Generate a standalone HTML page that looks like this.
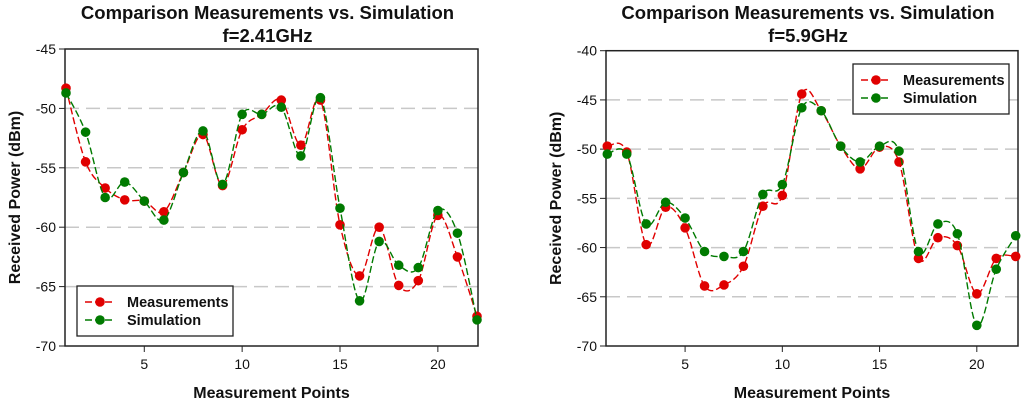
<!DOCTYPE html>
<html><head><meta charset="utf-8"><style>
body{margin:0;background:#fff;width:1024px;height:407px;overflow:hidden;font-family:"Liberation Sans",Arial,sans-serif}
svg text{font-family:"Liberation Sans",Arial,sans-serif}
</style></head><body>
<svg id="c" width="1024" height="407" viewBox="0 0 1024 407"></svg>
<script>
const points = [1,2,3,4,5,6,7,8,9,10,11,12,13,14,15,16,17,18,19,20,21,22];
const xTicks = [5,10,15,20];
const leftYTicks = [-45,-50,-55,-60,-65,-70];
const rightYTicks = [-40,-45,-50,-55,-60,-65,-70];
const leftMeas = [-48.3,-54.5,-56.7,-57.7,-57.8,-58.7,-55.4,-52.2,-56.5,-51.8,-50.5,-49.3,-53.1,-49.3,-59.8,-64.1,-60.0,-64.9,-64.5,-59.0,-62.5,-67.5];
const leftSim = [-48.7,-52.0,-57.5,-56.2,-57.8,-59.4,-55.4,-51.9,-56.4,-50.5,-50.5,-49.9,-54.0,-49.1,-58.4,-66.2,-61.2,-63.2,-63.4,-58.6,-60.5,-67.8];
const rightMeas = [-49.7,-50.3,-59.7,-55.9,-58.0,-63.9,-63.8,-61.9,-55.8,-54.7,-44.4,-46.1,-49.7,-52.0,-49.8,-51.3,-61.1,-59.0,-59.8,-64.7,-61.1,-60.9];
const rightSim = [-50.5,-50.5,-57.6,-55.4,-57.0,-60.4,-60.9,-60.4,-54.6,-53.6,-45.8,-46.1,-49.7,-51.3,-49.7,-50.2,-60.4,-57.6,-58.6,-67.9,-62.2,-58.8];

const NS="http://www.w3.org/2000/svg";
const svg=document.getElementById('c');
function mk(tag,attrs,parent){const e=document.createElementNS(NS,tag);for(const k in attrs)e.setAttribute(k,attrs[k]);(parent||svg).appendChild(e);return e;}
function txt(s,attrs,parent){const e=mk('text',attrs,parent);e.textContent=s;return e;}

function chart(cfg){
  const g=mk('g',{});
  
  
  const {L,R,T,B,ymin,ymax,p1x,p22x}=cfg;
  const xs=v=>p1x+(v-1)*(p22x-p1x)/21;
  const ys=v=>T+(ymax-v)*(B-T)/(ymax-ymin);
  cfg.yTicks.forEach(v=>{
    if(v!==ymax&&v!==ymin){const l=mk('line',{x1:L,x2:R,y1:ys(v),y2:ys(v),stroke:'#c8c8c8','stroke-width':1.5,'stroke-dasharray':'14,7'},g);
    
    }
    const t=mk('line',{x1:L-6,x2:L,y1:ys(v),y2:ys(v),stroke:'#222','stroke-width':1},g);
    
    
    const lb=txt(String(v),{x:L-9,y:ys(v)+5,'text-anchor':'end','font-size':14,fill:'#111'},g);
    
    
  });
  xTicks.forEach(v=>{
    const t=mk('line',{x1:xs(v),x2:xs(v),y1:B,y2:B+6,stroke:'#222','stroke-width':1},g);
    
    
    const lb=txt(String(v),{x:xs(v),y:B+23,'text-anchor':'middle','font-size':14,fill:'#111'},g);
    
    
  });
  const frame=mk('rect',{x:L,y:T,width:R-L,height:B-T,fill:'none',stroke:'#222','stroke-width':1.5},g);
  
  
  function series(vals,color,nm){
    const pts=vals.map((v,i)=>[xs(points[i]),ys(v)]);
    let d='M'+pts[0][0]+','+pts[0][1];
    for(let i=0;i<pts.length-1;i++){
      const p0=pts[Math.max(0,i-1)],p1=pts[i],p2=pts[i+1],p3=pts[Math.min(pts.length-1,i+2)];
      const c1=[p1[0]+(p2[0]-p0[0])/6,p1[1]+(p2[1]-p0[1])/6];
      const c2=[p2[0]-(p3[0]-p1[0])/6,p2[1]-(p3[1]-p1[1])/6];
      d+=` C${c1[0]},${c1[1]} ${c2[0]},${c2[1]} ${p2[0]},${p2[1]}`;
    }
    const p=mk('path',{d,fill:'none',stroke:color,'stroke-width':1.4,'stroke-dasharray':'7,3'},g);
    
    
    pts.forEach(q=>{const c=mk('circle',{cx:q[0],cy:q[1],r:4.8,fill:color},g);
      
      });
  }
  series(cfg.meas,'#e00000','measurements');
  series(cfg.sim,'#007a00','simulation');
  const lg=mk('g',{},g);
  
  
  const [lx,ly,lw,lh]=cfg.legend;
  mk('rect',{x:lx,y:ly,width:lw,height:lh,fill:'#fff',stroke:'#222','stroke-width':1.3},lg);
  [['Measurements','#e00000',ly+16],['Simulation','#007a00',ly+34]].forEach(([s,c,yy])=>{
    const e=mk('g',{},lg);
    
    
    mk('line',{x1:lx+8,x2:lx+38,y1:yy,y2:yy,stroke:c,'stroke-width':1.4,'stroke-dasharray':'7,3'},e);
    mk('circle',{cx:lx+23,cy:yy,r:4.8,fill:c},e);
    txt(s,{x:lx+50,y:yy+5,'font-size':14.5,'font-weight':'bold',fill:'#111'},e);
  });
  const cx=(L+R)/2;
  const t1=txt('Comparison Measurements vs. Simulation',{x:cx-4,y:19,'text-anchor':'middle','font-size':18.5,'font-weight':'bold',fill:'#111'},g);
  
  
  const t2=txt(cfg.sub,{x:cx-4,y:42,'text-anchor':'middle','font-size':18.5,'font-weight':'bold',fill:'#111'},g);
  
  
  const xl=txt('Measurement Points',{x:cx,y:398,'text-anchor':'middle','font-size':16,'font-weight':'bold',fill:'#111'},g);
  
  
  const yl=txt('Received Power (dBm)',{x:0,y:0,'text-anchor':'middle','font-size':16,'font-weight':'bold',fill:'#111',transform:`translate(${cfg.ylx},${(T+B)/2}) rotate(-90)`},g);
  
  
}
chart({name:'chart-2-41ghz',L:65,R:478,T:49,B:346,ymin:-70,ymax:-45,p1x:66,p22x:477,yTicks:leftYTicks,meas:leftMeas,sim:leftSim,legend:[77,286,156,50],sub:'f=2.41GHz',ylx:20});
chart({name:'chart-5-9ghz',L:606,R:1018,T:50.7,B:346,ymin:-70,ymax:-40,p1x:607.3,p22x:1015.7,yTicks:rightYTicks,meas:rightMeas,sim:rightSim,legend:[853,64,156,50],sub:'f=5.9GHz',ylx:561});
</script>
</body></html>
